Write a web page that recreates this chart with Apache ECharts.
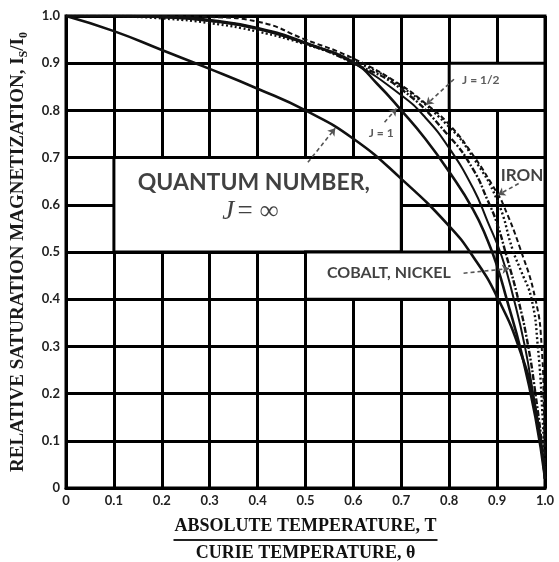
<!DOCTYPE html>
<html>
<head>
<meta charset="utf-8">
<script src="https://cdn.jsdelivr.net/npm/echarts@6/dist/echarts.min.js"></script>
<style>
html,body{margin:0;padding:0;background:#fff;}
#chart{width:559px;height:562px;}
</style>
</head>
<body>
<div id="chart"></div>
<script>
// ---- tick labels ----
const xTicks = ['0','0.1','0.2','0.3','0.4','0.5','0.6','0.7','0.8','0.9','1.0'];
const yTicks = ['0','0.1','0.2','0.3','0.4','0.5','0.6','0.7','0.8','0.9','1.0'];

// ---- curves (T/θ, Is/I0) ----
const jInfX = [0,0.1,0.2,0.3,0.4,0.5,0.6,0.7,0.8,0.85,0.9,0.95,0.98,1.0];
const jInfY = [1.0,0.968,0.928,0.888,0.846,0.80,0.74,0.655,0.555,0.49,0.405,0.285,0.17,0.02];

const j1X = [0,0.1,0.2,0.3,0.4,0.5,0.6,0.65,0.7,0.75,0.8,0.85,0.88,0.9,0.92,0.95,0.98,1.0];
const j1Y = [1.0,1.0,0.998,0.99,0.973,0.942,0.902,0.856,0.80,0.74,0.67,0.59,0.525,0.47,0.40,0.29,0.15,0.02];

const nickelX = [0,0.1,0.2,0.3,0.4,0.5,0.6,0.7,0.75,0.8,0.85,0.88,0.91,0.935,0.958,0.975,0.99,1.0];
const nickelY = [1.0,1.0,0.999,0.992,0.975,0.944,0.90,0.832,0.785,0.72,0.635,0.565,0.49,0.40,0.30,0.20,0.10,0.02];

const cobaltX = [0,0.1,0.2,0.3,0.4,0.5,0.6,0.7,0.8,0.85,0.88,0.9,0.92,0.944,0.965,0.98,0.995,1.0];
const cobaltY = [1.0,1.0,0.998,0.99,0.973,0.942,0.90,0.845,0.745,0.675,0.61,0.56,0.49,0.40,0.30,0.20,0.08,0.02];

const ironX = [0.1,0.2,0.3,0.4,0.5,0.6,0.7,0.8,0.85,0.9,0.934,0.95,0.972,0.985,0.995,1.0];
const ironY = [1.0,0.995,0.985,0.967,0.94,0.905,0.85,0.765,0.70,0.61,0.50,0.46,0.40,0.30,0.15,0.02];

const jHalfX = [0,0.2,0.3,0.4,0.5,0.6,0.7,0.75,0.8,0.85,0.9,0.913,0.948,0.98,0.993,0.998,1.0];
const jHalfY = [1.0,1.0,0.998,0.988,0.95,0.91,0.853,0.815,0.77,0.705,0.625,0.60,0.508,0.40,0.30,0.15,0.02];

// ---- annotation layout (text boxes that hide the grid, labels, pointers) ----
const boxes = [
  [[0.1,0.7],[0.7,0.5]],
  [[0.5,0.5],[0.9,0.4]],
  [[0.8,0.9],[1.0,0.8]]
];
const pointers = [
  [[0.505,0.69],[0.562,0.762]],
  [[0.665,0.775],[0.69,0.804]],
  [[0.81,0.866],[0.752,0.812]],
  [[0.945,0.645],[0.902,0.621]],
  [[0.83,0.455],[0.925,0.465]]
];

function zip(xs, ys){ return xs.map((x,i)=>[x, ys[i]]); }

const sansBold = {fontFamily:'Lato', fontWeight:'bold', color:'#111'};

const labels = [
  {value:[0.392,0.648], label:{formatter:'QUANTUM NUMBER,', fontSize:23, ...sansBold}},
  {value:[0.385,0.585], label:{formatter:'{i|J} {n|= ∞}', rich:{
      i:{fontFamily:'Liberation Serif', fontStyle:'italic', fontSize:27, color:'#111'},
      n:{fontFamily:'Liberation Serif', fontSize:27, color:'#111'}}}},
  {value:[0.866,0.864], label:{formatter:'J = 1/2', fontSize:12, ...sansBold, color:'#333'}},
  {value:[0.658,0.752], label:{formatter:'J = 1', fontSize:12, ...sansBold, color:'#333'}},
  {value:[0.952,0.663], label:{formatter:'IRON', fontSize:17, ...sansBold}},
  {value:[0.674,0.455], label:{formatter:'COBALT, NICKEL', fontSize:16, ...sansBold}}
];

function curve(name, xs, ys, width, type, z){
  return {
    name, type:'line', data: zip(xs, ys), showSymbol:false, symbol:'none',
    smooth:0.5, z: z || 3,
    lineStyle:{color:'#111', width, type}
  };
}

const chart = echarts.init(document.getElementById('chart'), null, {renderer:'canvas'});
chart.setOption({
  animation:false,
  backgroundColor:'#fff',
  grid:{left:66, right:14, top:16, bottom:74, outerBoundsMode:'none', containLabel:false,
        show:true, borderColor:'#000', borderWidth:3},
  xAxis:{
    type:'value', min:0, max:1, interval:0.1,
    axisLine:{show:true, lineStyle:{color:'#000', width:3}},
    axisTick:{show:false},
    splitLine:{show:true, lineStyle:{color:'#000', width:3}},
    axisLabel:{margin:6, fontFamily:'Lato', fontWeight:'bold', fontSize:13, color:'#222',
      formatter:(v)=>xTicks[Math.round(v*10)]},
    name:'{t|ABSOLUTE TEMPERATURE, T}\n{bar|}\n{b|CURIE TEMPERATURE, θ}',
    nameLocation:'middle', nameGap:28,
    nameTextStyle:{rich:{
      t:{fontFamily:'Liberation Serif', fontWeight:'bold', fontSize:18, lineHeight:21, color:'#111', align:'center'},
      bar:{width:264, height:2, lineHeight:6, backgroundColor:'#222', align:'center'},
      b:{fontFamily:'Liberation Serif', fontWeight:'bold', fontSize:18, lineHeight:21, color:'#111', align:'center'}
    }}
  },
  yAxis:{
    type:'value', min:0, max:1, interval:0.1,
    axisLine:{show:true, lineStyle:{color:'#000', width:3}},
    axisTick:{show:false},
    splitLine:{show:true, lineStyle:{color:'#000', width:3}},
    axisLabel:{margin:6, fontFamily:'Lato', fontWeight:'bold', fontSize:13, color:'#222',
      formatter:(v)=>yTicks[Math.round(v*10)]},
    name:'{a|RELATIVE SATURATION MAGNETIZATION, I}{s|S}{a|/I}{s|0}',
    nameLocation:'middle', nameGap:36, nameRotate:90,
    nameTextStyle:{rich:{
      a:{fontFamily:'Liberation Serif', fontWeight:'bold', fontSize:19, lineHeight:24, color:'#1a1a1a'},
      s:{fontFamily:'Liberation Serif', fontWeight:'bold', fontSize:12, lineHeight:14, verticalAlign:'bottom', color:'#1a1a1a'}
    }}
  },
  series:[
    {
      name:'boxes', type:'line', data:[], z:1, silent:true,
      markArea:{silent:true, z:1,
        itemStyle:{color:'#fff', borderColor:'#000', borderWidth:3},
        data: boxes.map(b=>[{coord:b[0]},{coord:b[1]}])}
    },
    curve('J = ∞', jInfX, jInfY, 2.6, 'solid', 4),
    curve('J = 1', j1X, j1Y, 2.6, 'solid', 4),
    curve('Nickel', nickelX, nickelY, 2, 'solid', 3),
    curve('Cobalt', cobaltX, cobaltY, 2.4, [6,2,2,2], 3),
    curve('Iron', ironX, ironY, 2.4, [2,2.5], 3),
    curve('J = 1/2', jHalfX, jHalfY, 2, [5,3], 3),
    {
      name:'pointers', type:'lines', coordinateSystem:'cartesian2d', z:5, silent:true,
      symbol:['none','arrow'], symbolSize:7,
      lineStyle:{color:'#555', width:1.6, type:[4,3], opacity:1},
      data: pointers.map(p=>({coords:p}))
    },
    {
      name:'labels', type:'scatter', z:6, silent:true, symbolSize:1,
      itemStyle:{color:'rgba(0,0,0,0)'},
      label:{show:true, position:'inside'},
      data: labels
    }
  ]
});
</script>
</body>
</html>
